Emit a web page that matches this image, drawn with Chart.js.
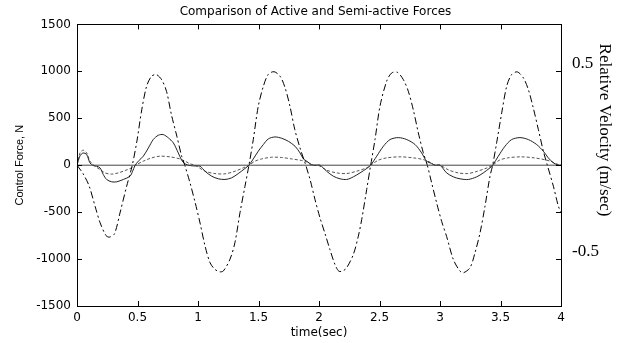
<!DOCTYPE html>
<html>
<head>
<meta charset="utf-8">
<script src="https://cdn.jsdelivr.net/npm/chart.js@4.4.0/dist/chart.umd.min.js"></script>
<style>
  html, body { margin: 0; padding: 0; background: #fff; }
  #wrap { width: 631px; height: 343px; }
</style>
</head>
<body>
<div id="wrap"><canvas id="forceChart"></canvas></div>
<script>
// Relative velocity (dash-dot), m/sec, on the right axis
const velTime = [0, 0.05, 0.1, 0.15, 0.19, 0.24, 0.27, 0.31, 0.355, 0.41, 0.455, 0.495, 0.535, 0.575, 0.615, 0.655, 0.7, 0.74, 0.78, 0.825, 0.865, 0.893, 0.934, 0.975,
  1.017, 1.058, 1.1, 1.14, 1.18, 1.21, 1.265, 1.305, 1.347, 1.388, 1.421, 1.457, 1.498, 1.54, 1.58, 1.628, 1.678, 1.72, 1.76, 1.8, 1.843, 1.884, 1.926, 1.967,
  2.008, 2.05, 2.09, 2.132, 2.165, 2.2, 2.229, 2.284, 2.325, 2.353, 2.394, 2.427, 2.463, 2.504, 2.559, 2.6, 2.647, 2.697, 2.738, 2.779, 2.821, 2.862, 2.895, 2.931, 2.972,
  3.014, 3.055, 3.11, 3.165, 3.193, 3.248, 3.289, 3.331, 3.372, 3.413, 3.435, 3.468, 3.51, 3.551, 3.592, 3.639, 3.689, 3.73, 3.771, 3.813, 3.854, 3.887, 3.937, 3.978, 4.0];
const velValue = [0, -0.045, -0.11, -0.22, -0.305, -0.375, -0.383, -0.365, -0.255, -0.113, -0.005, 0.128, 0.295, 0.42, 0.473, 0.483, 0.455, 0.393, 0.27, 0.155, 0.048, -0.005, -0.094, -0.195,
  -0.308, -0.43, -0.52, -0.555, -0.568, -0.563, -0.5, -0.413, -0.253, -0.113, 0, 0.137, 0.314, 0.42, 0.483, 0.498, 0.474, 0.412, 0.314, 0.19, 0.092, 0.013, -0.076, -0.183,
  -0.28, -0.365, -0.449, -0.529, -0.565, -0.562, -0.546, -0.475, -0.378, -0.289, -0.13, 0, 0.137, 0.314, 0.447, 0.491, 0.495, 0.456, 0.394, 0.296, 0.172, 0.066, 0, -0.094, -0.2,
  -0.3, -0.38, -0.502, -0.564, -0.573, -0.546, -0.467, -0.36, -0.218, -0.059, 0, 0.119, 0.279, 0.42, 0.483, 0.497, 0.465, 0.403, 0.305, 0.19, 0.075, 0, -0.112, -0.218, -0.25];

// Active force (solid), N
const activeTime = [0, 0.025, 0.05, 0.08, 0.107, 0.135, 0.16, 0.19, 0.217, 0.245, 0.286, 0.328, 0.383, 0.438, 0.46, 0.479, 0.507, 0.548, 0.59, 0.63, 0.672, 0.713, 0.755, 0.796, 0.837, 0.865, 0.893, 0.934, 0.975,
  1.017, 1.058, 1.113, 1.168, 1.223, 1.278, 1.333, 1.388, 1.421, 1.457, 1.498, 1.54, 1.581, 1.636, 1.691, 1.746, 1.802, 1.843, 1.871, 1.898, 1.939, 1.967,
  2.008, 2.063, 2.118, 2.174, 2.229, 2.284, 2.339, 2.394, 2.427, 2.477, 2.532, 2.587, 2.656, 2.725, 2.794, 2.848, 2.89, 2.931, 2.959,
  3.0, 3.055, 3.11, 3.165, 3.234, 3.303, 3.358, 3.413, 3.435, 3.482, 3.537, 3.592, 3.661, 3.73, 3.799, 3.854, 3.895, 3.937, 3.978, 4.0];
const activeForce = [0, 100, 130, 113, 25, -4, -10, -28, -99, -152, -177, -177, -152, -117, -64, -4, 43, 96, 184, 273, 319, 326, 291, 238, 131, 53, 14, -4, -8,
  -11, -64, -117, -145, -152, -135, -89, -35, 0, 67, 149, 220, 280, 301, 287, 255, 202, 131, 67, 43, 7, 0,
  0, -64, -117, -145, -152, -124, -82, -35, 0, 96, 202, 273, 294, 273, 220, 131, 43, 18, 0,
  0, -82, -124, -145, -152, -124, -82, -28, 0, 96, 202, 273, 294, 273, 220, 149, 78, 25, 0, 0];

// Semi-active force (dotted), N
const semiTime = [0, 0.025, 0.052, 0.08, 0.107, 0.149, 0.19, 0.231, 0.286, 0.341, 0.397, 0.452, 0.493, 0.548, 0.617, 0.686, 0.768, 0.85, 0.893, 0.934, 0.975,
  1.058, 1.14, 1.223, 1.306, 1.374, 1.421, 1.471, 1.526, 1.609, 1.691, 1.774, 1.857, 1.898, 1.939,
  2.0, 2.063, 2.146, 2.229, 2.311, 2.394, 2.427, 2.49, 2.559, 2.67, 2.78, 2.862, 2.917, 2.959,
  3.0, 3.07, 3.15, 3.23, 3.31, 3.39, 3.435, 3.49, 3.56, 3.67, 3.78, 3.86, 3.92, 3.96, 4.0];
const semiForce = [0, 131, 160, 131, 43, -10, -46, -82, -95, -82, -57, -28, 7, 43, 78, 96, 89, 67, 43, 14, 0,
  -64, -89, -92, -64, -28, 0, 43, 67, 85, 82, 67, 50, 35, 0,
  -5, -53, -82, -89, -64, -28, 0, 53, 78, 89, 78, 60, 32, 0,
  0, -50, -82, -89, -64, -28, 0, 53, 78, 89, 78, 60, 40, 15, 0];

const zeroTime = [0, 4];
const zeroForce = [0, 0];

const timeTicks = [0, 0.5, 1, 1.5, 2, 2.5, 3, 3.5, 4];
const forceTicks = [-1500, -1000, -500, 0, 500, 1000, 1500];
const velLabels = [-0.5, 0.5];

const toPoints = (xs, ys) => xs.map((x, i) => ({ x: x, y: ys[i] }));

// MATLAB style box with inward ticks on all four sides
const frameTicks = {
  id: "frameTicks",
  afterDatasetsDraw(chart) {
    const { ctx, chartArea: a, scales } = chart;
    const len = 5;
    ctx.save();
    ctx.strokeStyle = "#000";
    ctx.lineWidth = 1;
    ctx.strokeRect(Math.round(a.left) + 0.5, Math.round(a.top) + 0.5, Math.round(a.right - a.left), Math.round(a.bottom - a.top));
    ctx.beginPath();
    timeTicks.forEach((t) => {
      const px = Math.round(scales.x.getPixelForValue(t)) + 0.5;
      ctx.moveTo(px, a.bottom); ctx.lineTo(px, a.bottom - len);
      ctx.moveTo(px, a.top); ctx.lineTo(px, a.top + len);
    });
    forceTicks.forEach((f) => {
      const py = Math.round(scales.y.getPixelForValue(f)) + 0.5;
      ctx.moveTo(a.left, py); ctx.lineTo(a.left + len, py);
    });
    scales.y2.ticks.forEach((t) => {
      const py = Math.round(scales.y2.getPixelForValue(t.value)) + 0.5;
      ctx.moveTo(a.right, py); ctx.lineTo(a.right - len, py);
    });
    ctx.stroke();

    // right axis title, placed like the original annotation
    ctx.fillStyle = "#000";
    ctx.font = "17px 'Liberation Serif'";
    ctx.textAlign = "center";
    ctx.textBaseline = "middle";
    ctx.translate(604, 130);
    ctx.rotate(Math.PI / 2);
    ctx.fillText("Relative Velocity (m/sec)", 0, 0);
    ctx.restore();
  },
};

const ctx = document.getElementById("forceChart").getContext("2d");
new Chart(ctx, {
  type: "line",
  data: {
    datasets: [
      {
        label: "zero",
        data: toPoints(zeroTime, zeroForce),
        borderColor: "#444",
        borderWidth: 1,
        yAxisID: "y",
      },
      {
        label: "Relative velocity",
        data: toPoints(velTime, velValue),
        borderColor: "#000",
        borderWidth: 1,
        borderDash: [7, 3, 2, 3],
        tension: 0.3,
        yAxisID: "y2",
      },
      {
        label: "Active force",
        data: toPoints(activeTime, activeForce),
        borderColor: "#222",
        borderWidth: 1,
        tension: 0.3,
        yAxisID: "y",
      },
      {
        label: "Semi-active force",
        data: toPoints(semiTime, semiForce),
        borderColor: "#555",
        borderWidth: 1,
        borderDash: [3, 2],
        tension: 0.3,
        yAxisID: "y",
      },
    ],
  },
  options: {
    responsive: true,
    maintainAspectRatio: false,
    animation: false,
    layout: { padding: 0 },
    elements: { point: { radius: 0 } },
    plugins: {
      legend: { display: false },
      tooltip: { enabled: false },
      title: {
        display: true,
        text: "Comparison of Active and Semi-active Forces",
        color: "#000",
        font: { family: "'DejaVu Sans'", size: 12, weight: "normal" },
        padding: { top: 5, bottom: 5 },
      },
    },
    scales: {
      x: {
        type: "linear",
        min: 0,
        max: 4,
        afterFit: (s) => { s.height = 37; },
        afterBuildTicks: (s) => { s.ticks = timeTicks.map((v) => ({ value: v })); },
        grid: { display: false, drawTicks: false },
        border: { display: false },
        ticks: {
          color: "#000",
          padding: 5,
          font: { family: "'DejaVu Sans'", size: 12 },
          callback: (v) => String(v),
        },
        title: {
          display: true,
          text: "time(sec)",
          color: "#000",
          font: { family: "'DejaVu Sans'", size: 12 },
          padding: { top: 0, bottom: 3 },
        },
      },
      y: {
        position: "left",
        min: -1500,
        max: 1500,
        afterFit: (s) => { s.width = 77; },
        afterBuildTicks: (s) => { s.ticks = forceTicks.map((v) => ({ value: v })); },
        grid: { display: false, drawTicks: false },
        border: { display: false },
        ticks: {
          color: "#000",
          padding: 6,
          font: { family: "'DejaVu Sans'", size: 12 },
          callback: (v) => String(v),
        },
        title: {
          display: true,
          text: "Control Force, N",
          color: "#000",
          font: { family: "'Liberation Sans'", size: 11 },
          padding: { top: 13, bottom: 0 },
        },
      },
      y2: {
        position: "right",
        min: -0.75,
        max: 0.75,
        afterFit: (s) => { s.width = 70; },
        grid: { display: false, drawTicks: false },
        border: { display: false },
        ticks: {
          stepSize: 0.25,
          color: "#000",
          padding: 11,
          labelOffset: -8,
          font: { family: "'Liberation Serif'", size: 17 },
          callback: (v) => (velLabels.includes(v) ? String(v) : ""),
        },
      },
    },
  },
  plugins: [frameTicks],
});
</script>
</body>
</html>
